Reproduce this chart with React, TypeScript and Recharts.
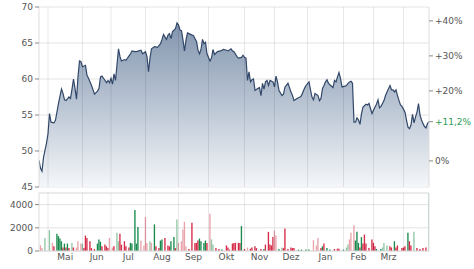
import React from 'react';
import {
  AreaChart,
  Area,
  Line,
  XAxis,
  YAxis,
  CartesianGrid,
  ReferenceLine,
  BarChart,
  Bar,
  Cell,
} from 'recharts';

// ---- price series (trading-day index -> close) ----
const priceDays = [
  0, 1, 2, 3, 5, 6, 7, 8, 10, 11, 13, 15, 16, 17, 18, 20, 21, 22, 23, 24, 25, 26, 27, 28, 29, 31, 32, 33, 35, 36,
  37, 39, 40, 41, 42, 43, 45, 46, 47, 48, 49, 50, 51, 53, 54, 55, 57, 58, 60, 61, 62, 64, 65, 68, 69, 71, 72, 73,
  74, 75, 77, 79, 81, 82, 83, 85, 86, 87, 88, 89, 91, 92, 93, 94, 95, 96, 97, 98, 99, 101, 103, 104, 105, 106, 107,
  108, 109, 110, 111, 112, 114, 115, 116, 117, 119, 121, 123, 125, 126, 128, 129, 130, 132, 133, 135, 136, 137, 138,
  139, 140, 141, 142, 143, 144, 146, 147, 148, 149, 150, 151, 152, 153, 154, 156, 157, 158, 159, 160, 162, 163, 164,
  166, 167, 168, 169, 170, 172, 174, 175, 177, 178, 180, 181, 182, 183, 184, 186, 187, 188, 189, 190, 191, 192, 193,
  195, 196, 197, 198, 199, 200, 201, 202, 204, 205, 206, 207, 208, 209, 210, 211, 212, 213, 214, 215, 216, 218, 219,
  220, 221, 222, 224, 225, 226, 227, 228, 229, 230, 231, 232, 234, 235, 236, 237, 238, 239, 240, 241, 242, 244, 245,
  246, 247, 248, 249, 250, 251, 252, 253, 254, 255, 256, 257, 258, 259, 260,
];
const prices = [
  48.7, 47.6, 47.2, 49.1, 51.1, 52.4, 55.2, 54.0, 53.9, 54.3, 56.6, 58.6, 58.0, 57.1, 57.0, 57.5, 57.3, 58.6, 60.0,
  58.7, 57.2, 60.3, 62.5, 62.4, 61.7, 61.9, 60.5, 60.1, 59.1, 58.5, 57.9, 58.3, 58.7, 60.3, 60.4, 60.1, 59.5, 59.8,
  59.5, 60.1, 59.3, 60.7, 59.8, 64.2, 63.1, 62.5, 62.7, 62.6, 63.2, 63.5, 63.9, 63.8, 63.8, 64.0, 63.5, 63.8, 63.1,
  61.0, 62.9, 64.2, 64.5, 64.4, 64.9, 65.5, 66.2, 65.5, 66.1, 66.3, 65.6, 66.6, 67.0, 67.8, 67.5, 66.8, 66.7, 65.4,
  63.9, 65.4, 66.4, 66.2, 66.0, 65.6, 65.2, 64.0, 63.5, 64.1, 65.5, 64.9, 65.1, 63.5, 62.5, 62.9, 64.1, 63.4, 63.8,
  63.9, 64.1, 64.0, 63.9, 64.2, 63.9, 63.8, 63.1, 62.9, 63.0, 63.3, 63.0, 62.9, 59.8, 61.0, 59.6, 59.9, 60.0, 58.4,
  58.7, 58.8, 57.7, 59.4, 58.6, 59.6, 59.8, 59.1, 59.8, 59.6, 58.9, 60.4, 59.6, 58.4, 57.7, 57.9, 58.9, 59.4, 58.8,
  58.2, 57.7, 57.0, 57.3, 57.5, 57.7, 58.7, 59.1, 59.6, 58.5, 57.5, 57.1, 58.0, 57.7, 57.0, 57.3, 58.7, 59.1, 59.6,
  59.9, 59.4, 59.0, 58.8, 59.8, 59.6, 60.3, 60.9, 60.1, 58.9, 59.0, 59.1, 59.4, 59.6, 59.7, 59.4, 54.0, 54.0, 54.6,
  54.3, 53.7, 55.2, 56.1, 56.5, 56.4, 56.6, 55.9, 55.2, 56.1, 56.5, 57.1, 56.0, 56.2, 56.6, 57.0, 57.7, 58.2, 59.1,
  58.5, 58.5, 58.2, 58.5, 57.7, 57.0, 56.4, 56.2, 55.4, 54.3, 53.3, 53.1, 53.6, 55.1, 53.9, 54.7, 55.4, 56.6, 55.0,
  54.3, 53.8, 53.4, 53.2, 53.8, 54.07,
];
const lastChangePct = 11.2;

// ---- volume series ----
const volDays = [
  1, 2, 4, 7, 9, 10, 12, 13, 14, 15, 16, 17, 18, 19, 20, 22, 23, 25, 26, 28, 29, 30, 31, 32, 34, 35, 37, 39, 40, 41,
  42, 44, 45, 46, 47, 49, 50, 52, 53, 54, 55, 57, 58, 60, 61, 62, 64, 65, 66, 68, 70, 71, 72, 74, 75, 77, 78, 80, 81,
  82, 84, 86, 87, 88, 90, 91, 92, 93, 95, 96, 97, 98, 100, 102, 104, 105, 106, 107, 108, 110, 111, 112, 114, 115, 116,
  118, 120, 122, 125, 126, 127, 129, 130, 131, 133, 134, 135, 137, 139, 141, 142, 144, 145, 148, 150, 151, 153, 154,
  155, 156, 157, 158, 160, 162, 163, 164, 166, 168, 169, 170, 173, 175, 178, 180, 183, 185, 186, 188, 189, 190, 192,
  194, 197, 199, 200, 203, 205, 206, 207, 208, 210, 211, 212, 213, 214, 215, 216, 217, 218, 220, 222, 223, 224, 225,
  228, 229, 230, 232, 234, 235, 237, 238, 239, 242, 243, 244, 246, 247, 248, 250, 252, 254, 256, 258, 260,
];
const volumes = [
  490, 260, 1130, 1800, 700, 400, 1480, 1280, 1070, 840, 300, 640, 300, 640, 250, 700, 300, 300, 840, 640, 640, 250,
  1330, 1130, 840, 250, 170, 640, 1000, 800, 400, 550, 400, 250, 1130, 300, 400, 1570, 840, 1480, 550, 840, 400, 300,
  700, 640, 3540, 640, 2060, 900, 480, 2930, 700, 840, 700, 2290, 400, 250, 900, 1000, 1130, 480, 400, 840, 1200, 250,
  2720, 700, 840, 1860, 2520, 400, 170, 2440, 700, 700, 900, 1070, 840, 700, 900, 700, 3220, 1000, 550, 250, 170, 120,
  480, 300, 120, 640, 700, 700, 700, 700, 2150, 170, 300, 200, 300, 400, 250, 170, 170, 550, 1650, 550, 480, 1200, 1770,
  1330, 170, 300, 250, 1940, 170, 300, 250, 250, 120, 120, 120, 120, 930, 480, 1130, 250, 400, 640, 250, 120, 170, 200,
  200, 120, 300, 550, 1000, 1570, 2230, 900, 1650, 700, 300, 1200, 640, 1420, 640, 250, 1000, 700, 400, 170, 170, 300,
  700, 480, 400, 300, 840, 300, 480, 250, 300, 400, 1570, 840, 480, 1650, 250, 170, 250, 300, 6000,
];
// u = up, ul = up (light), d = down, dl = down (light)
const volKinds = [
  'dl', 'dl', 'ul', 'ul', 'dl', 'd', 'u', 'u', 'u', 'u', 'd', 'u', 'd', 'u', 'd', 'ul', 'd', 'dl', 'dl', 'dl', 'ul', 'd',
  'd', 'd', 'd', 'd', 'd', 'u', 'u', 'u', 'd', 'd', 'd', 'd', 'dl', 'dl', 'd', 'ul', 'ul', 'd', 'd', 'd', 'd', 'd', 'u',
  'u', 'u', 'u', 'u', 'dl', 'dl', 'dl', 'dl', 'ul', 'dl', 'u', 'd', 'd', 'u', 'u', 'd', 'd', 'd', 'u', 'u', 'd', 'ul',
  'dl', 'dl', 'dl', 'dl', 'dl', 'd', 'd', 'd', 'd', 'd', 'u', 'u', 'u', 'u', 'd', 'dl', 'ul', 'ul', 'd', 'd', 'u', 'd',
  'd', 'd', 'd', 'd', 'd', 'd', 'd', 'u', 'd', 'dl', 'd', 'd', 'd', 'd', 'd', 'u', 'd', 'd', 'd', 'd', 'd', 'dl', 'dl',
  'u', 'ul', 'd', 'd', 'd', 'd', 'd', 'd', 'u', 'u', 'u', 'u', 'dl', 'dl', 'dl', 'd', 'u', 'd', 'u', 'u', 'd', 'd', 'd',
  'u', 'ul', 'ul', 'dl', 'dl', 'dl', 'u', 'u', 'u', 'd', 'u', 'd', 'd', 'd', 'd', 'd', 'd', 'd', 'u', 'u', 'ul', 'ul',
  'ul', 'd', 'd', 'u', 'd', 'd', 'd', 'd', 'd', 'u', 'd', 'd', 'ul', 'd', 'd', 'd', 'd', 'ul',
];

// ---- axes ----
const dayDomain = [0, 260];
const monthStartDays = [6, 29, 48, 71, 93, 113, 137, 157, 179, 203, 223, 243];
const monthTickDays = [17.5, 38.5, 59.5, 82, 103, 125, 147, 168, 191, 213, 233];
const monthLabels = ['Mai', 'Jun', 'Jul', 'Aug', 'Sep', 'Okt', 'Nov', 'Dez', 'Jan', 'Feb', 'Mrz'];
const priceDomain = [45, 70];
const priceTicks = [45, 50, 55, 60, 65, 70];
const pctTicks = [0, 20, 30, 40];
const volumeDomain = [0, 5000];
const volumeTicks = [0, 2000, 4000];

const FONT = 'DejaVu Sans, Verdana, sans-serif';
const TEXT = '#555';
const GRID = '#e4e4e4';
const kindColor: Record<string, string> = {
  u: '#178a4c',
  ul: '#8fc6a4',
  d: '#d52a47',
  dl: '#e9a2aa',
};

const lastPrice = prices[prices.length - 1];
const basePrice = lastPrice / (1 + lastChangePct / 100);
const pctDomain = [(priceDomain[0] / basePrice - 1) * 100, (priceDomain[1] / basePrice - 1) * 100];

const priceData = priceDays.map((d, i) => ({
  d,
  p: prices[i],
  pct: (prices[i] / basePrice - 1) * 100,
}));
const volData = volDays.map((d, i) => ({ d, v: volumes[i], k: volKinds[i] }));

const fmtPct = (v: number) => (v === 0 ? '0%' : '+' + String(v).replace('.', ',') + '%');

const PctTick = (props: any) => {
  const { x, y, payload } = props;
  const isLast = payload.value === lastChangePct;
  return (
    <text
      x={x}
      y={y}
      dy="0.355em"
      textAnchor="start"
      fontSize={9}
      fontFamily={FONT}
      fill={isLast ? '#2e9a57' : TEXT}
    >
      {fmtPct(payload.value)}
    </text>
  );
};

export default function App() {
  const tickStyle = { fontSize: 9, fontFamily: FONT, fill: TEXT };
  return (
    <div style={{ position: 'absolute', left: 0, top: 0, width: 474, height: 269, background: '#fff' }}>
      <div style={{ position: 'absolute', left: 0, top: 0 }}>
        <AreaChart width={474} height={200} data={priceData} margin={{ top: 7, right: 0, bottom: 13, left: 0 }}>
          <defs>
            <linearGradient id="priceFill" x1="0" y1="0" x2="0" y2="1">
              <stop offset="0%" stopColor="#7b8faa" />
              <stop offset="55%" stopColor="#bcc7d5" />
              <stop offset="100%" stopColor="#f4f6f9" />
            </linearGradient>
          </defs>
          <CartesianGrid vertical={false} stroke={GRID} />
          <XAxis type="number" dataKey="d" domain={dayDomain} hide allowDataOverflow />
          <YAxis
            type="number"
            domain={priceDomain}
            ticks={priceTicks}
            width={39}
            tickSize={4}
            tickMargin={2}
            tick={tickStyle}
            axisLine={{ stroke: '#ddd' }}
            tickLine={{ stroke: '#888' }}
            allowDataOverflow
            interval={0}
          />
          <YAxis
            yAxisId="pct"
            orientation="right"
            type="number"
            domain={pctDomain}
            ticks={[...pctTicks, lastChangePct]}
            width={45}
            tickSize={4}
            tickMargin={2}
            tick={<PctTick />}
            axisLine={{ stroke: '#ddd' }}
            tickLine={{ stroke: '#888' }}
            allowDataOverflow
            interval={0}
          />
          <Area
            type="linear"
            dataKey="p"
            stroke="#32486a"
            strokeWidth={1.2}
            fill="url(#priceFill)"
            fillOpacity={0.95}
            isAnimationActive={false}
            dot={false}
            activeDot={false}
          />
          <Line
            yAxisId="pct"
            type="linear"
            dataKey="pct"
            stroke="none"
            dot={false}
            activeDot={false}
            isAnimationActive={false}
          />
          {monthStartDays.map((m) => (
            <ReferenceLine key={m} x={m} stroke="rgba(0,0,0,0.09)" />
          ))}
        </AreaChart>
      </div>
      <div style={{ position: 'absolute', left: 0, top: 190 }}>
        <BarChart width={474} height={79} data={volData} margin={{ top: 3, right: 45, bottom: 0, left: 0 }}>
          <CartesianGrid vertical={false} stroke={GRID} />
          <XAxis
            type="number"
            dataKey="d"
            domain={dayDomain}
            ticks={monthTickDays}
            interval={0}
            tickFormatter={(v: number) => monthLabels[monthTickDays.indexOf(v)] ?? ''}
            tickLine={false}
            tickSize={0}
            tickMargin={3}
            height={18}
            tick={tickStyle}
            axisLine={{ stroke: '#ddd' }}
            allowDataOverflow
          />
          <YAxis
            type="number"
            domain={volumeDomain}
            ticks={volumeTicks}
            width={39}
            tickSize={4}
            tickMargin={2}
            tick={tickStyle}
            axisLine={{ stroke: '#ddd' }}
            tickLine={{ stroke: '#888' }}
            allowDataOverflow
            interval={0}
          />
          <ReferenceLine y={volumeDomain[1]} stroke={GRID} />
          <ReferenceLine x={dayDomain[1]} stroke={GRID} />
          {monthStartDays.map((m) => (
            <ReferenceLine key={m} x={m} stroke="rgba(0,0,0,0.09)" />
          ))}
          <Bar dataKey="v" barSize={2} isAnimationActive={false}>
            {volData.map((e, i) => (
              <Cell key={i} fill={kindColor[e.k]} />
            ))}
          </Bar>
        </BarChart>
      </div>
    </div>
  );
}
